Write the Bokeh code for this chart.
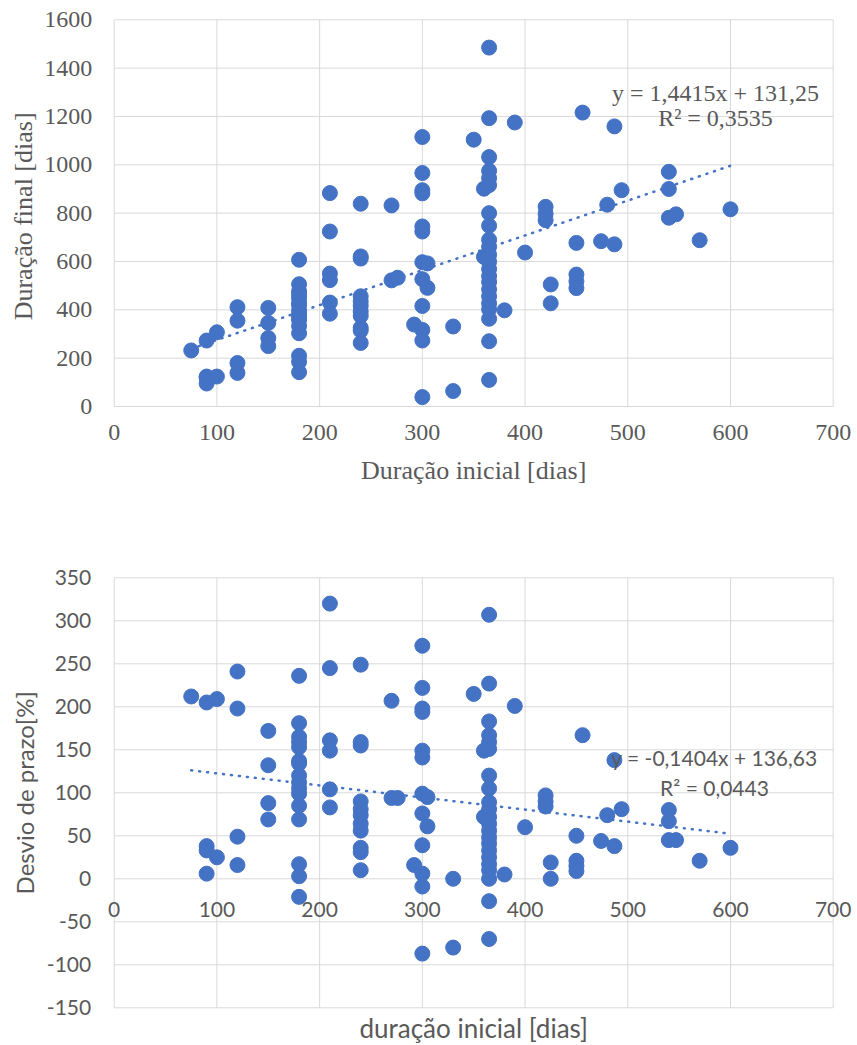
from bokeh.plotting import figure
from bokeh.layouts import column
from bokeh.models import ColumnDataSource, Label
from bokeh.embed import file_html
from bokeh.resources import INLINE

# ---------------- data ----------------
duracao_inicial = [
    75, 90, 90, 90, 90, 100, 100,
    120, 120, 120, 120,
    150, 150, 150, 150,
    180, 180, 180, 180, 180, 180, 180, 180, 180, 180, 180, 180, 180, 180, 180, 180,
    210, 210, 210, 210, 210, 210,
    240, 240, 240, 240, 240, 240, 240, 240, 240, 240, 240,
    270, 270, 276, 292,
    300, 300, 300, 300, 300, 300, 300, 300, 300, 300, 300, 300,
    305, 305, 330, 330, 350, 360, 360,
    365, 365, 365, 365, 365, 365, 365, 365, 365, 365, 365, 365, 365, 365, 365, 365,
    365, 365, 365, 365, 365, 365,
    380, 390, 400, 420, 420, 420, 425, 425,
    450, 450, 450, 450, 456, 474, 480, 487, 487, 494,
    540, 540, 540, 547, 570, 600,
]
duracao_final = [
    232, 273, 124, 120, 95, 307, 124,
    411, 355, 180, 139,
    408, 346, 283, 250,
    607, 506, 477, 463, 448, 427, 420, 396, 382, 369, 358, 333, 303, 210, 185, 142,
    883, 724, 550, 523, 430, 384,
    839, 621, 612, 456, 435, 417, 393, 375, 326, 314, 263,
    832, 522, 533, 339,
    1115, 966, 895, 882, 745, 724, 597, 527, 416, 317, 273, 39,
    592, 491, 331, 64, 1104, 901, 619,
    1485, 1193, 1032, 975, 945, 916, 800, 748, 690, 661, 628, 599, 569, 540, 515, 485,
    456, 427, 402, 363, 270, 110,
    398, 1175, 637, 826, 797, 771, 505, 427,
    677, 546, 518, 490, 1216, 684, 835, 1159, 671, 895,
    971, 900, 781, 795, 688, 816,
]
desvio_prazo = [
    212, 205, 38, 33, 6, 209, 25,
    241, 198, 49, 16,
    172, 132, 88, 69,
    236, 181, 165, 159, 153, 137, 134, 120, 112, 105, 99, 85, 69, 17, 3, -21,
    320, 245, 161, 149, 104, 83,
    249, 159, 155, 90, 81, 74, 64, 56, 36, 31, 10,
    207, 94, 94, 16,
    271, 222, 198, 194, 149, 141, 99, 76, 39, 6, -9, -87,
    95, 61, 0, -80, 215, 149, 72,
    307, 227, 183, 167, 159, 151, 120, 105, 89, 81, 72, 64, 56, 48, 41, 33,
    25, 17, 10, 0, -26, -70,
    5, 201, 60, 97, 90, 84, 19, 0,
    50, 21, 15, 9, 167, 44, 74, 138, 38, 81,
    80, 67, 45, 45, 21, 36,
]

x_ticks = [0, 100, 200, 300, 400, 500, 600, 700]
x_tick_labels = ["0", "100", "200", "300", "400", "500", "600", "700"]
y1_ticks = [0, 200, 400, 600, 800, 1000, 1200, 1400, 1600]
y1_tick_labels = ["0", "200", "400", "600", "800", "1000", "1200", "1400", "1600"]
y2_ticks = [-150, -100, -50, 0, 50, 100, 150, 200, 250, 300, 350]
y2_tick_labels = ["-150", "-100", "-50", "0", "50", "100", "150", "200", "250", "300", "350"]

trend1_slope, trend1_intercept = 1.4415, 131.25
trend2_slope, trend2_intercept = -0.1404, 136.63
eq1_text = "y = 1,4415x + 131,25"
r1_text = "R² = 0,3535"
eq2_text = "y = -0,1404x + 136,63"
r2_text = "R² = 0,0443"

title1_x = "Duração inicial [dias]"
title1_y = "Duração final  [dias]"
title2_x = "duração inicial [dias]"
title2_y = "Desvio de prazo[%]"

# ---------------- style / geometry (screen px) ----------------
BLUE = "#4472C4"
GRID = "#D9D9D9"
TXT = "#595959"
SERIF = "Liberation Serif"
SANS = "Lato"

W = 857
H1, H2 = 530, 515
X0 = 113.7                     # screen x of value 0
PX_X = 719.0 / 700.0           # px per day (x)
Y1_ZERO = 406.0                # screen y of 0 (top chart)
PX_Y1 = 386.7 / 1600.0
Y2_ZERO = 878.3 - H1           # screen y of 0 inside the bottom figure
PX_Y2 = 430.0 / 500.0

def xd(px):
    return (px - X0) / PX_X

def y1d(py):
    return (Y1_ZERO - py) / PX_Y1

def y2d(py):
    return (Y2_ZERO - py) / PX_Y2

x_lo, x_hi = min(duracao_inicial), max(duracao_inicial)
tx = [x_lo, x_hi]
ty1 = [trend1_slope * v + trend1_intercept for v in tx]
ty2 = [trend2_slope * v + trend2_intercept for v in tx]

src = ColumnDataSource(dict(x=duracao_inicial, y1=duracao_final, y2=desvio_prazo))


def make_fig(h, yr):
    fig = figure(width=W, height=h, min_border=0,
                 x_range=(xd(0), xd(W)), y_range=yr,
                 x_axis_location=None, y_axis_location=None,
                 output_backend="svg", toolbar_location=None)
    fig.outline_line_color = None
    fig.grid.visible = False
    fig.background_fill_color = "white"
    fig.border_fill_color = "white"
    return fig


def gridlines(fig, xt, yt):
    n, m = len(xt), len(yt)
    fig.segment(x0=[xt[0]] * m, x1=[xt[-1]] * m, y0=yt, y1=yt,
                line_color=GRID, line_width=1, level="underlay")
    fig.segment(x0=xt, x1=xt, y0=[yt[0]] * n, y1=[yt[-1]] * n,
                line_color=GRID, line_width=1, level="underlay")


def txt(fig, x, y, s, font, size, align="center", xo=0, yo=0, angle=0):
    fig.add_layout(Label(x=x, y=y, text=s, text_align=align, text_baseline="middle",
                         x_offset=xo, y_offset=yo, angle=angle, angle_units="deg",
                         text_font=font, text_font_size=size, text_color=TXT))


def tick_labels(fig, font, size, xt, xl, down, yt, yl, left):
    for t, s in zip(xt, xl):
        txt(fig, t, 0, s, font, size, "center", 0, -down)
    for t, s in zip(yt, yl):
        txt(fig, 0, t, s, font, size, "right", -left, 0)

# ---------------- top chart ----------------
p1 = make_fig(H1, (y1d(H1), y1d(0)))
gridlines(p1, x_ticks, y1_ticks)
tick_labels(p1, SERIF, "24px", x_ticks, x_tick_labels, 26, y1_ticks, y1_tick_labels, 22)
xmid = (x_ticks[0] + x_ticks[-1]) / 2
txt(p1, xmid, y1d(470), title1_x, SERIF, "26px")
txt(p1, xd(23), (y1_ticks[0] + y1_ticks[-1]) / 2, title1_y, SERIF, "26px", angle=90)

p1.line(tx, ty1, line_color=BLUE, line_width=2.5, line_dash="1 7", line_cap="round")
p1.scatter("x", "y1", source=src, size=15, fill_color=BLUE, line_color=BLUE)
txt(p1, xd(715), y1d(92), eq1_text, SERIF, "24px")
txt(p1, xd(715), y1d(117), r1_text, SERIF, "24px")

# ---------------- bottom chart ----------------
p2 = make_fig(H2, (y2d(H2), y2d(0)))
gridlines(p2, x_ticks, y2_ticks)
# horizontal-axis labels sit on the zero line (axis crosses at 0)
tick_labels(p2, SANS, "21px", x_ticks, x_tick_labels, 31, y2_ticks, y2_tick_labels, 23)
txt(p2, xmid, y2d(1027 - H1), title2_x, SANS, "26px")
txt(p2, xd(24), (y2_ticks[0] + y2_ticks[-1]) / 2, title2_y, SANS, "24px", angle=90)

p2.line(tx, ty2, line_color=BLUE, line_width=2.5, line_dash="1 7", line_cap="round")
p2.scatter("x", "y2", source=src, size=15, fill_color=BLUE, line_color=BLUE)
txt(p2, xd(714), y2d(757.3 - H1), eq2_text, SANS, "21px")
txt(p2, xd(714), y2d(787.3 - H1), r2_text, SANS, "21px")

layout = column(p1, p2, spacing=0)
open("out.html", "w").write(file_html(layout, INLINE))
